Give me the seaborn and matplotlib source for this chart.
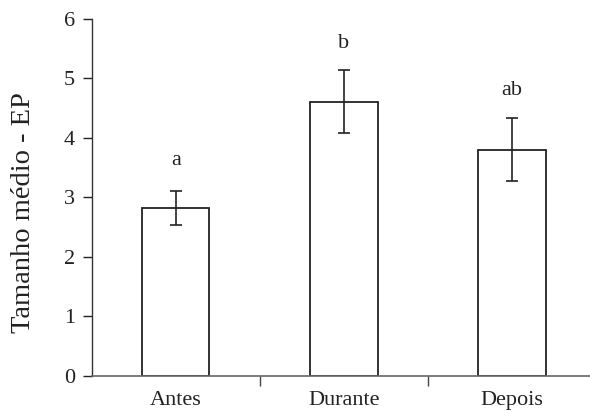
import numpy as np
import matplotlib
matplotlib.use("Agg")
import matplotlib.pyplot as plt
import seaborn as sns
import pandas as pd

# values
periodos = ["Antes", "Durante", "Depois"]
media = [2.82, 4.61, 3.80]
ep = [0.29, 0.53, 0.53]
letras = ["a", "b", "ab"]
letra_y = [3.62, 5.58, 4.80]

df = pd.DataFrame({"periodo": periodos, "media": media})

sns.set_style("ticks")
plt.rcParams["font.family"] = ["Liberation Serif", "DejaVu Serif"]

fig = plt.figure(figsize=(5.9, 4.12), dpi=100)
ax = fig.add_axes([0.1554, 0.0874, 0.855, 0.8665])

sns.barplot(data=df, x="periodo", y="media", color="white", edgecolor="#222222",
            linewidth=1.3, width=0.40, errorbar=None, ax=ax)
ax.errorbar(np.arange(len(periodos)), media, yerr=ep, fmt="none",
            ecolor="#222222", elinewidth=1.2, capsize=4.3, capthick=1.2)

for i, (t, yy) in enumerate(zip(letras, letra_y)):
    ax.text(i, yy, t, ha="center", va="center", fontsize=16, color="#222222")

ax.set_xlim(-0.5, 2.5)
ax.set_ylim(0, 6)
ax.set_yticks(range(7))
ax.set_xticks(range(3))
ax.set_xticklabels(periodos)
ax.set_xticks([0.5, 1.5], minor=True)
ax.tick_params(axis="x", which="major", length=0, labelsize=16, pad=11, colors="#222222")
ax.tick_params(axis="x", which="minor", length=7, width=1.0, color="#444444")
ax.tick_params(axis="y", length=6.5, width=1.0, labelsize=16, pad=5.5, colors="#222222")
ax.set_xlabel("")
ax.set_ylabel("Tamanho médio - EP", fontsize=20.5, color="#222222")
ax.yaxis.set_label_coords(-0.110, 0.459)

sns.despine(ax=ax)
ax.spines["left"].set_color("#333333")
ax.spines["bottom"].set_color("#666666")
ax.spines["left"].set_linewidth(1.0)
ax.spines["bottom"].set_linewidth(1.2)

fig.savefig("out.png", dpi=100)
